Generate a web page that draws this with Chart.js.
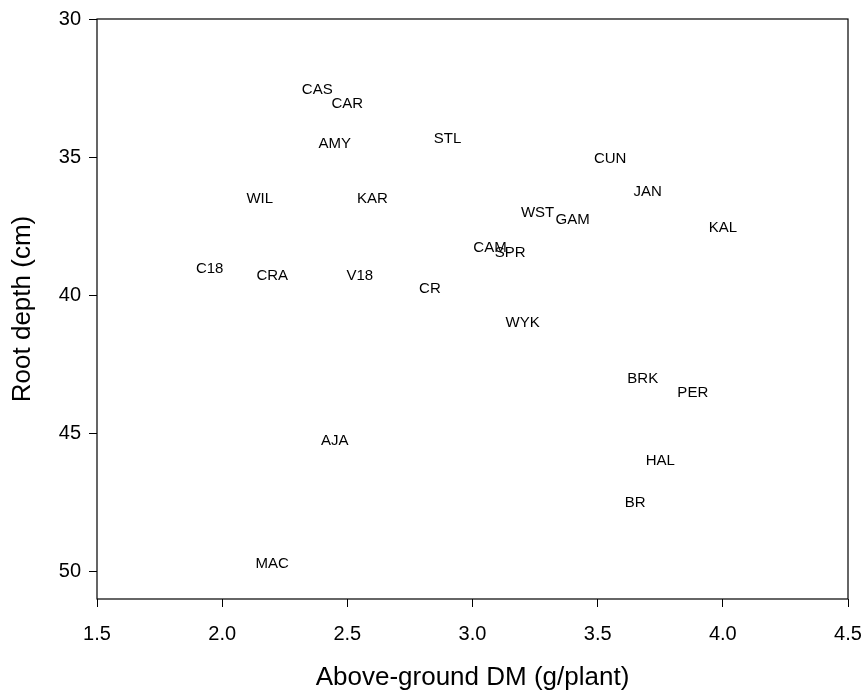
<!DOCTYPE html>
<html>
<head>
<meta charset="utf-8">
<script src="https://cdn.jsdelivr.net/npm/chart.js@4.4.1/dist/chart.umd.min.js"></script>
<style>
  html, body { margin: 0; padding: 0; background: #fff; }
  #wrap { width: 862px; height: 692px; }
</style>
</head>
<body>
<div id="wrap"><canvas id="rootChart"></canvas></div>
<script>
// Cultivar codes and their values
const cultivars = ["CAS", "CAR", "AMY", "STL", "CUN", "JAN", "WIL", "KAR", "WST", "GAM", "KAL", "CAM",
  "SPR", "C18", "CRA", "V18", "CR", "WYK", "BRK", "PER", "AJA", "HAL", "BR", "MAC"];
const dryMatter = [2.38, 2.50, 2.45, 2.90, 3.55, 3.70, 2.15, 2.60, 3.26, 3.40, 4.00, 3.07,
  3.15, 1.95, 2.20, 2.55, 2.83, 3.20, 3.68, 3.88, 2.45, 3.75, 3.65, 2.20];
const rootDepth = [32.55, 33.08, 34.53, 34.35, 35.05, 36.27, 36.52, 36.52, 37.01, 37.27, 37.57, 38.28,
  38.48, 39.03, 39.29, 39.29, 39.76, 41.01, 43.03, 43.53, 45.28, 46.0, 47.53, 49.73];
const xTicks = [1.5, 2.0, 2.5, 3.0, 3.5, 4.0, 4.5];
const yTicks = [30, 35, 40, 45, 50];

const font = '"Liberation Sans", Arial, sans-serif';

// write the cultivar code at each point instead of a marker
const textLabels = {
  id: "textLabels",
  afterDatasetsDraw(chart) {
    const ctx = chart.ctx;
    const meta = chart.getDatasetMeta(0);
    ctx.save();
    ctx.font = "15px " + font;
    ctx.fillStyle = "#000";
    ctx.textAlign = "center";
    ctx.textBaseline = "middle";
    meta.data.forEach((pt, i) => ctx.fillText(cultivars[i], pt.x, pt.y));
    ctx.restore();
  }
};

// box around the plot area
const frame = {
  id: "frame",
  afterDraw(chart) {
    const a = chart.chartArea;
    const ctx = chart.ctx;
    ctx.save();
    ctx.strokeStyle = "#000";
    ctx.lineWidth = 1.2;
    ctx.strokeRect(a.left, a.top, a.right - a.left, a.bottom - a.top);
    ctx.restore();
  }
};

new Chart(document.getElementById("rootChart"), {
  type: "scatter",
  data: {
    datasets: [{
      data: dryMatter.map((x, i) => ({ x: x, y: rootDepth[i] })),
      pointRadius: 0,
      pointHoverRadius: 0
    }]
  },
  options: {
    responsive: true,
    maintainAspectRatio: false,
    animation: false,
    layout: { padding: { left: 0, right: 14, top: 19, bottom: 0 } },
    plugins: { legend: { display: false }, tooltip: { enabled: false } },
    scales: {
      x: {
        type: "linear",
        min: 1.5,
        max: 4.5,
        afterBuildTicks: s => { s.ticks = xTicks.map(v => ({ value: v })); },
        afterFit: s => { s.height = 93; s.paddingLeft = 0; s.paddingRight = 0; },
        grid: { drawOnChartArea: false, drawTicks: true, tickLength: 8, color: "#000" },
        border: { display: false },
        ticks: {
          color: "#000",
          padding: 15,
          maxRotation: 0,
          font: { family: font, size: 20 },
          callback: v => v.toFixed(1)
        },
        title: {
          display: true,
          text: "Above-ground DM (g/plant)",
          color: "#000",
          font: { family: font, size: 26, lineHeight: 1 },
          padding: { top: 0, bottom: 1 }
        }
      },
      y: {
        type: "linear",
        reverse: true,
        min: 30,
        max: 51,
        afterBuildTicks: s => { s.ticks = yTicks.map(v => ({ value: v })); },
        afterFit: s => { s.width = 97; s.paddingTop = 0; s.paddingBottom = 0; },
        grid: { drawOnChartArea: false, drawTicks: true, tickLength: 8, color: "#000" },
        border: { display: false },
        ticks: {
          color: "#000",
          padding: 8,
          font: { family: font, size: 20 }
        },
        title: {
          display: true,
          text: "Root depth (cm)",
          color: "#000",
          font: { family: font, size: 26, lineHeight: 1 },
          padding: { top: 10, bottom: 0 }
        }
      }
    }
  },
  plugins: [textLabels, frame]
});
</script>
</body>
</html>
